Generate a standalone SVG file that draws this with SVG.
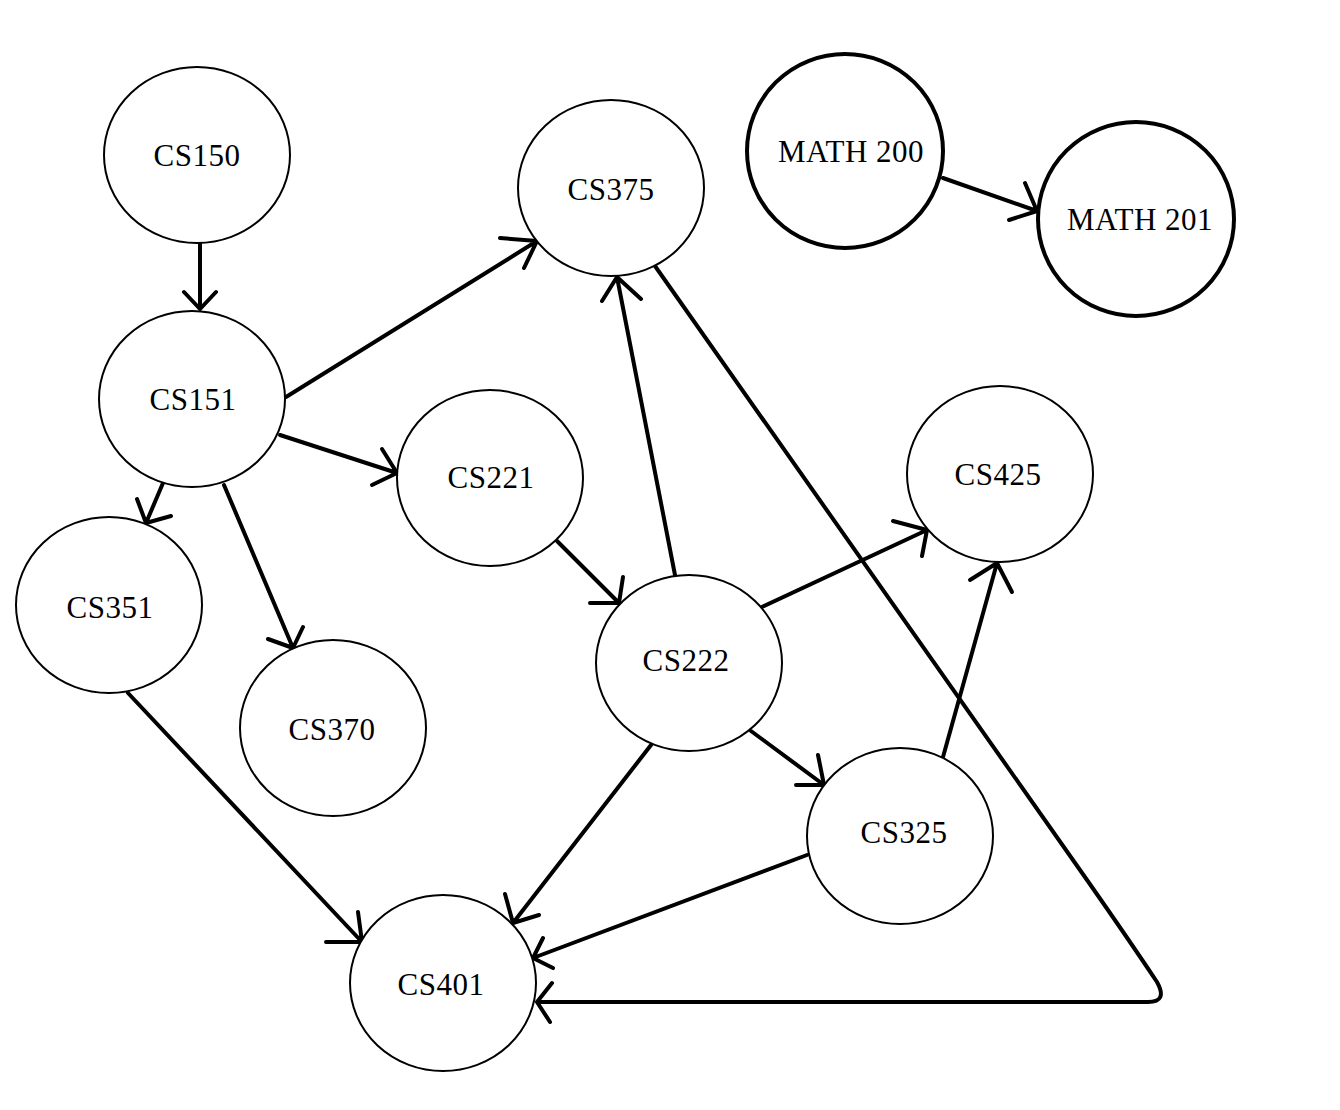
<svg xmlns="http://www.w3.org/2000/svg" width="1340" height="1110" viewBox="0 0 1340 1110">
<style>
.n{fill:#fff;stroke:#000;stroke-width:2}
.m{fill:#fff;stroke:#000;stroke-width:4}
.t{font-family:"Liberation Serif","DejaVu Serif",serif;font-size:31px;letter-spacing:0.5px;fill:#000;text-anchor:middle;dominant-baseline:central}
.e{fill:none;stroke:#000;stroke-width:4;stroke-linecap:round;stroke-linejoin:round}
</style>
<rect width="1340" height="1110" fill="#fff"/>
<g id="connectors">
<path class="e" d="M200,242 L200,309 M184,292 L200,309 L216,292"/>
<path class="e" d="M286,397 L537,241 M500,238 L537,241 L524,268"/>
<path class="e" d="M280,435 L397,473 M382,449 L397,473 L372,485"/>
<path class="e" d="M163,483 L146,523 M137,499 L146,523 L171,516"/>
<path class="e" d="M224,485 L293,648 M268,639 L293,648 L303,627"/>
<path class="e" d="M557,541 L619,603 M623,577 L619,603 L590,603"/>
<path class="e" d="M675,575 L617,277 M602,301 L617,277 L641,299"/>
<path class="e" d="M655,266 L1080,870 Q1125,934 1157,982 Q1168,1002 1148,1002 L537,1002 M552,983 L537,1002 L550,1022"/>
<path class="e" d="M762,607 L927,530 M893,521 L927,530 L922,556"/>
<path class="e" d="M943,757 L997,563 M970,580 L997,563 L1012,592"/>
<path class="e" d="M751,731 L824,785 M818,755 L824,785 L796,785"/>
<path class="e" d="M651,745 L513,923 M505,894 L513,923 L539,915"/>
<path class="e" d="M807,855 L533,958 M543,938 L533,958 L553,968"/>
<path class="e" d="M128,693 L362,942 M358,912 L362,942 L326,942"/>
<path class="e" d="M943,178 L1037,211 M1025,183 L1037,211 L1009,220"/>
</g>
<g id="CS150"><ellipse class="n" cx="197" cy="155" rx="93" ry="88"/><text class="t" x="197" y="155">CS150</text></g>
<g id="CS151"><ellipse class="n" cx="192" cy="399" rx="93" ry="88"/><text class="t" x="193" y="399">CS151</text></g>
<g id="CS375"><ellipse class="n" cx="611" cy="188" rx="93" ry="88"/><text class="t" x="611" y="189">CS375</text></g>
<g id="CS221"><ellipse class="n" cx="490" cy="478" rx="93" ry="88"/><text class="t" x="491" y="477">CS221</text></g>
<g id="CS351"><ellipse class="n" cx="109" cy="605" rx="93" ry="88"/><text class="t" x="110" y="607">CS351</text></g>
<g id="CS370"><ellipse class="n" cx="333" cy="728" rx="93" ry="88"/><text class="t" x="332" y="729">CS370</text></g>
<g id="CS222"><ellipse class="n" cx="689" cy="663" rx="93" ry="88"/><text class="t" x="686" y="660">CS222</text></g>
<g id="CS425"><ellipse class="n" cx="1000" cy="474" rx="93" ry="88"/><text class="t" x="998" y="474">CS425</text></g>
<g id="CS325"><ellipse class="n" cx="900" cy="836" rx="93" ry="88"/><text class="t" x="904" y="832">CS325</text></g>
<g id="CS401"><ellipse class="n" cx="443" cy="983" rx="93" ry="88"/><text class="t" x="441" y="984">CS401</text></g>
<g id="MATH200"><ellipse class="m" cx="845" cy="151" rx="98" ry="97"/><text class="t" x="851" y="151">MATH 200</text></g>
<g id="MATH201"><ellipse class="m" cx="1136" cy="219" rx="98" ry="97"/><text class="t" x="1140" y="219">MATH 201</text></g>
</svg>
